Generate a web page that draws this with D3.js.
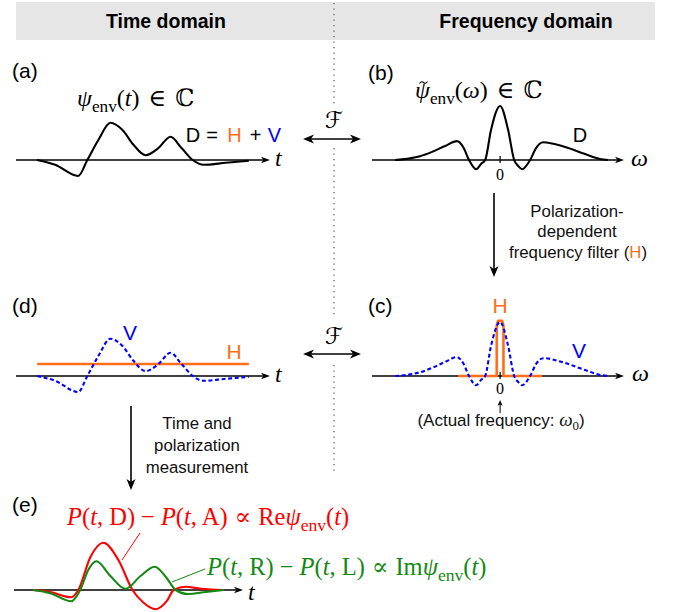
<!DOCTYPE html>
<html><head><meta charset="utf-8">
<script src="https://cdn.jsdelivr.net/npm/d3@7"></script>
<style>
body{margin:0;background:#fff}
svg{display:block}
.sans{font-family:"Liberation Sans",Arial,Helvetica,sans-serif}
.math{font-family:"Liberation Serif","Times New Roman","DejaVu Serif",serif}
</style></head><body>
<svg id="fig" width="678" height="612"></svg>
<script>
// ---------- values ----------
const headerLabels = ["Time domain", "Frequency domain"];
const panelLabels = ["(a)", "(b)", "(c)", "(d)", "(e)"];

// envelope psi_env(t) (panel a), reused as the V component (panel d)
const envT   = [0, 0.85, 1.94, 2.37, 2.89, 3.46, 4.03, 4.55, 5.12, 5.73, 6.30, 6.82, 7.35, 7.87, 8.91, 10];
const envVal = [0, -0.12, -0.4, 0, 0.5, 0.93, 0.75, 0.38, 0.12, 0.3, 0.58, 0.3, 0, -0.12, -0.07, -0.02];

// spectrum of the envelope (panels b and c)
const specW   = [-5, -4.29, -3.81, -3.24, -2.62, -2.05, -1.76, -1.48, -1.14, -0.9, -0.71, -0.43, 0, 0.38, 0.67, 0.86, 1.05, 1.43, 1.71, 2.05, 3.1, 4.05, 4.76, 5.14];
const specVal = [0, 0.03, 0.07, 0.15, 0.26, 0.35, 0.24, 0, -0.17, -0.07, 0, 0.56, 1.0, 0.56, 0, -0.11, -0.17, 0, 0.22, 0.33, 0.24, 0.11, 0.02, 0];

// narrow H-polarization frequency filter (panel c)
const filterW   = [-2, -0.16, -0.16, -0.1, 0.1, 0.16, 0.16, 2];
const filterVal = [0, 0, 0.94, 1.02, 1.02, 0.94, 0, 0];

// flat H component in time (panel d)
const hLevelT = [0, 10];
const hLevelVal = [0.3, 0.3];

// measured signals (panel e)
const reT   = [0, 0.89, 2.0, 2.37, 3.0, 3.68, 4.47, 5.21, 5.79, 6.42, 7.0, 7.37, 8.0, 8.79, 10];
const reVal = [0, -0.05, -0.18, 0, 0.82, 1.18, 0.75, 0, -0.32, -0.48, -0.28, 0, 0.08, 0.03, 0];
const imT   = [0, 0.89, 2.0, 2.47, 2.89, 3.32, 4.05, 4.84, 5.63, 6.37, 7.0, 7.47, 8.11, 9.05, 10];
const imVal = [0, -0.08, -0.28, 0, 0.5, 0.72, 0.35, 0.03, 0.35, 0.58, 0.3, 0, -0.1, -0.05, 0];

// ---------- colours ----------
const C = {orange: "#ff6f1a", blue: "#0000ff", red: "#ff0000", green: "#138a13", ink: "#000", grey: "#e6e6e6"};

const svg = d3.select("#fig");

// ---------- helpers ----------
function head(g, x, y, angle, len, half, color) {
  g.append("path")
    .attr("d", `M0,0 L${-len},${-half} L${-len * 0.72},0 L${-len},${half} Z`)
    .attr("transform", `translate(${x},${y}) rotate(${angle})`)
    .attr("fill", color || C.ink);
}
function hArrowAxis(g, x0, x1, y) {
  g.append("line").attr("x1", x0).attr("x2", x1 - 4).attr("y1", y).attr("y2", y)
    .attr("stroke", C.ink).attr("stroke-width", 1.3);
  head(g, x1, y, 0, 9, 3.3);
}
function sans(g, x, y, txt, size, opts = {}) {
  return g.append("text").attr("class", "sans").attr("x", x).attr("y", y)
    .attr("font-size", size).attr("text-anchor", opts.anchor || "middle")
    .attr("font-weight", opts.bold ? "bold" : null)
    .attr("fill", opts.color || "#111").text(txt);
}
// inline math: parts of {t, i (italic), sub (subscript), dx}
function math(g, x, y, parts, size, color, anchor) {
  const t = g.append("text").attr("class", "math").attr("x", x).attr("y", y)
    .attr("font-size", size).attr("fill", color || C.ink)
    .attr("text-anchor", anchor || "start");
  let off = 0;
  parts.forEach(p => {
    const s = t.append("tspan").text(p.t);
    if (p.i) s.attr("font-style", "italic");
    const want = p.sub ? size * 0.26 : 0;
    if (want !== off) { s.attr("dy", want - off); off = want; }
    if (p.sub) s.attr("font-size", size * 0.72);
    if (p.dx) s.attr("dx", p.dx);
  });
  return t;
}
const lineOf = (xs, ys) => d3.line().x(d => xs(d[0])).y(d => ys(d[1])).curve(d3.curveMonotoneX);

// ---------- header ----------
svg.append("rect").attr("x", 16).attr("y", 2).attr("width", 639).attr("height", 38).attr("fill", C.grey);
sans(svg, 166, 28, headerLabels[0], 19.5, {bold: true, color: "#000"});
sans(svg, 526, 28, headerLabels[1], 19.5, {bold: true, color: "#000"});

// dotted divider, broken around the Fourier arrows
[[3, 104], [148, 318], [365, 472]].forEach(([a, b]) => {
  svg.append("line").attr("x1", 334).attr("x2", 334).attr("y1", a).attr("y2", b)
    .attr("stroke", "#666").attr("stroke-width", 1.3).attr("stroke-dasharray", "1.3,4.2");
});

// ---------- scales ----------
const tx = d3.scaleLinear().domain([-1, 11]).range([16, 270]);       // time panels a, d
const wx = d3.scaleLinear().domain([-6.1, 5.9]).range([372, 624]);    // frequency panels b, c
const ex = d3.scaleLinear().domain([-1, 11]).range([14, 243]);       // panel e
const yA = d3.scaleLinear().domain([0, 1]).range([160, 120]);
const yD = d3.scaleLinear().domain([0, 1]).range([376, 336]);
const yB = d3.scaleLinear().domain([0, 1]).range([160, 106]);
const yC = d3.scaleLinear().domain([0, 1]).range([376, 322]);
const yE = d3.scaleLinear().domain([0, 1]).range([590, 550]);

const env = d3.zip(envT, envVal);
const spec = d3.zip(specW, specVal);

// ---------- panel (a) ----------
const gA = svg.append("g");
sans(gA, 12, 78, panelLabels[0], 21, {anchor: "start", color: "#000"});
hArrowAxis(gA, tx.range()[0], tx.range()[1], yA(0));
math(gA, 275, 166, [{t: "t", i: true}], 24);
gA.append("path").datum(env).attr("d", lineOf(tx, yA))
  .attr("fill", "none").attr("stroke", C.ink).attr("stroke-width", 2.1);
math(gA, 77, 106, [{t: "ψ", i: true}, {t: "env", sub: true}, {t: "("}, {t: "t", i: true}, {t: ")"}, {t: "∈", dx: 9}, {t: "ℂ", dx: 9}], 24);
[["D", 193, "#000"], ["=", 212, "#000"], ["H", 234.5, C.orange], ["+", 255.5, "#000"], ["V", 274.5, C.blue]]
  .forEach(([s, x, c]) => sans(gA, x, 142, s, 20, {color: c}));

// ---------- Fourier arrows ----------
[[139, 128], [354, 344]].forEach(([y, fy]) => {
  svg.append("line").attr("x1", 307).attr("x2", 357).attr("y1", y).attr("y2", y)
    .attr("stroke", C.ink).attr("stroke-width", 1.6);
  head(svg, 303, y, 180, 11, 4.5);
  head(svg, 361, y, 0, 11, 4.5);
  svg.append("text").attr("x", 334).attr("y", fy).attr("text-anchor", "middle")
    .attr("font-family", "'DejaVu Sans', sans-serif")
    .attr("font-size", 23).text("ℱ");
});

// ---------- panel (b) ----------
const gB = svg.append("g");
sans(gB, 368, 80, panelLabels[1], 21, {anchor: "start", color: "#000"});
hArrowAxis(gB, wx.range()[0], wx.range()[1], yB(0));
math(gB, 631, 166, [{t: "ω", i: true}], 24);
gB.append("line").attr("x1", wx(0)).attr("x2", wx(0)).attr("y1", yB(0) - 4).attr("y2", yB(0) + 3)
  .attr("stroke", C.ink).attr("stroke-width", 1.2);
math(gB, wx(0), yB(0) + 20, [{t: "0"}], 16, C.ink, "middle");
gB.append("path").datum(spec).attr("d", lineOf(wx, yB))
  .attr("fill", "none").attr("stroke", C.ink).attr("stroke-width", 2.1);
math(gB, 415, 98, [{t: "ψ", i: true}, {t: "env", sub: true}, {t: "("}, {t: "ω", i: true}, {t: ")"}, {t: "∈", dx: 9}, {t: "ℂ", dx: 9}], 24);
// tilde accent over psi
gB.append("path").attr("d", "M419.5,83.5 q2,-3 4,-1 q2,2 4,-1")
  .attr("fill", "none").attr("stroke", C.ink).attr("stroke-width", 1.1);
sans(gB, 580, 142, "D", 20, {color: "#000"});

// filter arrow b -> c
svg.append("line").attr("x1", 494).attr("x2", 494).attr("y1", 193).attr("y2", 272)
  .attr("stroke", C.ink).attr("stroke-width", 1.6);
head(svg, 494, 277, 90, 11, 4.5);
sans(svg, 577, 217, "Polarization-", 16.8);
sans(svg, 577, 237, "dependent", 16.8);
const ff = sans(svg, 578, 258, "frequency filter (", 16.8);
ff.append("tspan").attr("fill", C.orange).text("H");
ff.append("tspan").text(")");

// ---------- panel (c) ----------
const gC = svg.append("g");
sans(gC, 368, 313, panelLabels[2], 21, {anchor: "start", color: "#000"});
hArrowAxis(gC, wx.range()[0], wx.range()[1], yC(0));
math(gC, 632, 381, [{t: "ω", i: true}], 24);
gC.append("path").datum(d3.zip(filterW, filterVal)).attr("d", d3.line().x(d => wx(d[0])).y(d => yC(d[1])))
  .attr("fill", "none").attr("stroke", C.orange).attr("stroke-width", 2.6).attr("stroke-linejoin", "round");
gC.append("path").datum(spec).attr("d", lineOf(wx, yC))
  .attr("fill", "none").attr("stroke", C.blue).attr("stroke-width", 2.1).attr("stroke-dasharray", "4,2.6");
gC.append("line").attr("x1", wx(0)).attr("x2", wx(0)).attr("y1", yC(0) - 4).attr("y2", yC(0) + 3)
  .attr("stroke", C.ink).attr("stroke-width", 1.2);
math(gC, wx(0), yC(0) + 18, [{t: "0"}], 16, C.ink, "middle");
sans(gC, wx(0), 313, "H", 21, {color: C.orange});
sans(gC, 579, 358, "V", 21, {color: C.blue});
gC.append("line").attr("x1", wx(0)).attr("x2", wx(0)).attr("y1", 413).attr("y2", 404)
  .attr("stroke", C.ink).attr("stroke-width", 1);
head(gC, wx(0), 400, -90, 6, 2.6);
const af = sans(gC, wx(0) + 1, 426, "(Actual frequency: ", 17);
af.append("tspan").attr("class", "math").attr("font-style", "italic").attr("font-size", 19).text("ω");
af.append("tspan").attr("class", "math").attr("font-size", 13).attr("dy", 4).text("0");
af.append("tspan").attr("dy", -4).text(")");

// ---------- panel (d) ----------
const gD = svg.append("g");
sans(gD, 12, 313, panelLabels[3], 21, {anchor: "start", color: "#000"});
hArrowAxis(gD, tx.range()[0], tx.range()[1], yD(0));
math(gD, 275, 382, [{t: "t", i: true}], 24);
gD.append("path").datum(d3.zip(hLevelT, hLevelVal)).attr("d", lineOf(tx, yD))
  .attr("fill", "none").attr("stroke", C.orange).attr("stroke-width", 2.4);
gD.append("path").datum(env).attr("d", lineOf(tx, yD))
  .attr("fill", "none").attr("stroke", C.blue).attr("stroke-width", 2.1).attr("stroke-dasharray", "4,2.6");
sans(gD, 130, 340, "V", 21, {color: C.blue});
sans(gD, 234, 359, "H", 21, {color: C.orange});

// measurement arrow d -> e
svg.append("line").attr("x1", 131).attr("x2", 131).attr("y1", 406).attr("y2", 485)
  .attr("stroke", C.ink).attr("stroke-width", 1.6);
head(svg, 131, 490, 90, 11, 4.5);
sans(svg, 197, 429, "Time and", 16.8);
sans(svg, 197, 451, "polarization", 16.8);
sans(svg, 197, 473, "measurement", 16.8);

// ---------- panel (e) ----------
const gE = svg.append("g");
sans(gE, 12, 512, panelLabels[4], 21, {anchor: "start", color: "#000"});
hArrowAxis(gE, ex.range()[0], ex.range()[1], yE(0));
math(gE, 248, 600, [{t: "t", i: true}], 24);
gE.append("path").datum(d3.zip(reT, reVal)).attr("d", lineOf(ex, yE))
  .attr("fill", "none").attr("stroke", C.red).attr("stroke-width", 2.1);
gE.append("path").datum(d3.zip(imT, imVal)).attr("d", lineOf(ex, yE))
  .attr("fill", "none").attr("stroke", C.green).attr("stroke-width", 2.1);
gE.append("line").attr("x1", 140).attr("y1", 533).attr("x2", 122).attr("y2", 560)
  .attr("stroke", C.red).attr("stroke-width", 1);
gE.append("line").attr("x1", 205).attr("y1", 569).attr("x2", 172).attr("y2", 582)
  .attr("stroke", C.green).attr("stroke-width", 1);
math(gE, 67, 525, [{t: "P", i: true}, {t: "("}, {t: "t", i: true}, {t: ", D)"}, {t: "−", dx: 6}, {t: "P", i: true, dx: 6}, {t: "("}, {t: "t", i: true}, {t: ", A)"},
  {t: "∝", dx: 7}, {t: "Re", dx: 7}, {t: "ψ", i: true}, {t: "env", sub: true}, {t: "("}, {t: "t", i: true}, {t: ")"}], 24.5, C.red);
math(gE, 207, 575, [{t: "P", i: true}, {t: "("}, {t: "t", i: true}, {t: ", R)"}, {t: "−", dx: 6}, {t: "P", i: true, dx: 6}, {t: "("}, {t: "t", i: true}, {t: ", L)"},
  {t: "∝", dx: 7}, {t: "Im", dx: 7}, {t: "ψ", i: true}, {t: "env", sub: true}, {t: "("}, {t: "t", i: true}, {t: ")"}], 24.5, C.green);
</script>
</body></html>
